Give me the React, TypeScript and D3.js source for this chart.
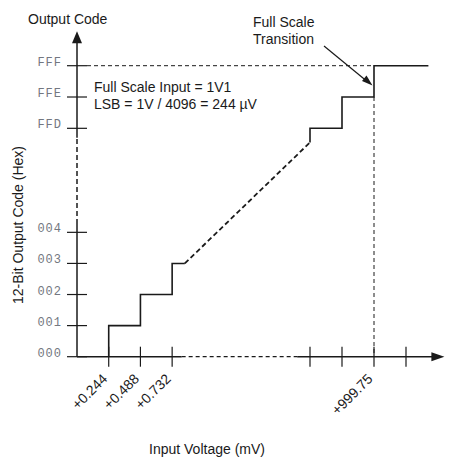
import React from 'react';
import * as d3 from 'd3';

// y axis codes (hex labels) and their code values
const codeLabels = ['000', '001', '002', '003', '004', 'FFD', 'FFE', 'FFF'];
const codeValues = [0, 1, 2, 3, 4, 4093, 4094, 4095];

// x axis ticks, in LSB counts, with their mV labels
const xTickLsb = [1, 2, 3, 4093, 4094, 4095, 4096];
const xTickLabels = ['+0.244', '+0.488', '+0.732', '', '', '+999.75', ''];

// transfer function (lsb, code)
const stairLow: [number, number][] = [[1, 0], [1, 1], [2, 1], [2, 2], [3, 2], [3, 3], [3.4, 3]];
const stairGap: [number, number][] = [[3.4, 3], [4093, 4092.55]];
const stairHigh: [number, number][] = [
  [4093, 4092.55], [4093, 4093], [4094, 4093], [4094, 4094],
  [4095, 4094], [4095, 4095], [4096.7, 4095],
];

const FONT = '"Liberation Sans", Arial, sans-serif';
const INK = '#1a1a1a';

export default function App() {
  const width = 455;
  const height = 459;

  // broken scales: a few LSBs at each end, the middle squeezed
  const x = d3.scaleLinear().domain([0, 3.5, 4092.5, 4097]).range([77, 188, 294, 438]);
  const y = d3.scaleLinear().domain([0, 4.4, 4092.4, 4095]).range([356.7, 219.9, 147.1, 65.7]);

  const line = d3.line<[number, number]>().x((d) => x(d[0])).y((d) => y(d[1]));

  const x0 = x(0);
  const y0 = y(0);
  const yTop = y(4096.1);
  const xEnd = x(4097.2);
  const tick = 10;

  return (
    <svg width={width} height={height} style={{ position: 'absolute', left: 0, top: 0, background: '#fff' }}>
      {/* y axis */}
      <line x1={x0} x2={x0} y1={y0} y2={y(4.27)} stroke={INK} strokeWidth={1.5} />
      <line x1={x0} x2={x0} y1={y(4.27)} y2={y(4092.7)} stroke={INK} strokeWidth={1.5} strokeDasharray="5,3" />
      <line x1={x0} x2={x0} y1={y(4092.7)} y2={yTop + 11} stroke={INK} strokeWidth={1.5} />
      <path d={`M${x0},${yTop}L${x0 - 5},${yTop + 12}L${x0 + 5},${yTop + 12}Z`} fill={INK} />

      {/* x axis */}
      <line x1={x0} x2={x(3.3)} y1={y0} y2={y0} stroke={INK} strokeWidth={1.5} />
      <line x1={x(3.3)} x2={x(4092.6)} y1={y0} y2={y0} stroke={INK} strokeWidth={1.2} strokeDasharray="4,3" />
      <line x1={x(4092.6)} x2={xEnd - 12} y1={y0} y2={y0} stroke={INK} strokeWidth={1.5} />
      <path d={`M${xEnd},${y0}L${xEnd - 13},${y0 - 4.5}L${xEnd - 13},${y0 + 4.5}Z`} fill={INK} />

      {/* y ticks */}
      {codeValues.map((c, i) => (
        <g key={codeLabels[i]}>
          <line x1={x0 - tick} x2={x0 + tick} y1={y(c)} y2={y(c)} stroke={INK} strokeWidth={1.2} />
          <text x={x0 - 15} y={y(c)} textAnchor="end" fontFamily='"Liberation Mono", monospace'
            fontSize={12} letterSpacing={1} fill="#737780">{codeLabels[i]}</text>
        </g>
      ))}

      {/* x ticks */}
      {xTickLsb.map((v, i) => (
        <g key={v}>
          <line x1={x(v)} x2={x(v)} y1={y0 - tick} y2={y0 + tick} stroke={INK} strokeWidth={1.2} />
          {xTickLabels[i] && (
            <text transform={`translate(${x(v) - 0.5},${y0 + 23}) rotate(-45)`} textAnchor="end"
              fontFamily={FONT} fontSize={14} fill={INK}>{xTickLabels[i]}</text>
          )}
        </g>
      ))}

      {/* full scale guides */}
      <line x1={x0 + tick} x2={x(4095)} y1={y(4095)} y2={y(4095)} stroke={INK} strokeWidth={1} strokeDasharray="4,3" />
      <line x1={x(4095)} x2={x(4095)} y1={y(4094)} y2={y0} stroke={INK} strokeWidth={1} strokeDasharray="4,3" />

      {/* transfer function */}
      <path d={line(stairLow) ?? ''} fill="none" stroke={INK} strokeWidth={1.6} />
      <path d={line(stairGap) ?? ''} fill="none" stroke={INK} strokeWidth={1.8} strokeDasharray="5,3" />
      <path d={line(stairHigh) ?? ''} fill="none" stroke={INK} strokeWidth={1.6} />

      {/* annotation arrow */}
      <line x1={324} y1={46} x2={366} y2={80.5} stroke={INK} strokeWidth={1.2} />
      <path d="M372.5,85.5L362,81L366.5,75.5Z" fill={INK} />

      {/* text */}
      <text x={28} y={24} fontFamily={FONT} fontSize={14} fill={INK}>Output Code</text>
      <text x={253} y={27} fontFamily={FONT} fontSize={14} fill={INK}>Full Scale</text>
      <text x={253} y={44} fontFamily={FONT} fontSize={14} fill={INK}>Transition</text>
      <text x={94} y={92} fontFamily={FONT} fontSize={14} fill={INK}>Full Scale Input = 1V1</text>
      <text x={94} y={109} fontFamily={FONT} fontSize={14} fill={INK}>LSB = 1V / 4096 = 244 µV</text>
      <text x={149} y={454} fontFamily={FONT} fontSize={14} fill={INK}>Input Voltage (mV)</text>
      <text transform="translate(23,225) rotate(-90)" textAnchor="middle" fontFamily={FONT} fontSize={14} fill={INK}>
        12-Bit Output Code (Hex)
      </text>
    </svg>
  );
}
